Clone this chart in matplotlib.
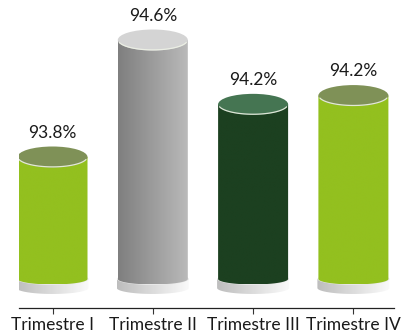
import numpy as np
import matplotlib
matplotlib.use("Agg")
import matplotlib.pyplot as plt
from matplotlib.patches import Polygon, Ellipse
from matplotlib.colors import LinearSegmentedColormap

plt.rcParams["font.family"] = ["Lato", "DejaVu Sans"]

# Quarterly results
quarters = ["Trimestre I", "Trimestre II", "Trimestre III", "Trimestre IV"]
values = [93.8, 94.6, 94.16, 94.22]

# Cylinder colours: (body left, body right, top face)
body_left = ["#93c01f", "#7f7f7f", "#1c4020", "#93c01f"]
body_right = ["#93c01f", "#bababa", "#1c4020", "#93c01f"]
top_faces = ["#7f9157", "#d4d4d4", "#457552", "#7f9157"]

BASE = 92.966
YLIM = (92.7675, 94.8735)

W, H = 401, 335
fig = plt.figure(figsize=(W / 100, H / 100), dpi=100)
ax_left, ax_right, ax_bottom = 19, 394, 308
ax = fig.add_axes([ax_left / W, (H - ax_bottom) / H, (ax_right - ax_left) / W, ax_bottom / H])

step_px = 100.3
xlim = ((ax_left - 52.5) / step_px, (ax_right - 52.5) / step_px)
px_x = 1 / step_px
px_y = (YLIM[1] - YLIM[0]) / ax_bottom


def body_path(xc, w, ybot, ytop, ry):
    t = np.linspace(np.pi, 2 * np.pi, 60)
    arc = np.column_stack([xc + w / 2 * np.cos(t), ybot + ry * np.sin(t)])
    verts = np.vstack([[xc - w / 2, ytop], arc, [xc + w / 2, ytop]])
    return verts


def gradient_fill(verts, c0, c1, z):
    poly = Polygon(verts, closed=True, facecolor="none", edgecolor="none", zorder=z)
    ax.add_patch(poly)
    cmap = LinearSegmentedColormap.from_list("g", [c0, c1])
    grad = np.linspace(0, 1, 256).reshape(1, -1)
    x0, x1 = verts[:, 0].min(), verts[:, 0].max()
    y0, y1 = verts[:, 1].min(), verts[:, 1].max()
    im = ax.imshow(grad, extent=[x0, x1, y0, y1], aspect="auto", cmap=cmap,
                   origin="lower", zorder=z, interpolation="bilinear")
    im.set_clip_path(poly)


bar_w = 70 * px_x
base_w = 72 * px_x
ry_top = 10.5 * px_y
ry_bot = 5.5 * px_y
ry_base = 6 * px_y

for i, v in enumerate(values):
    # base disc
    b_top = BASE
    b_bot = BASE - 9 * px_y
    gradient_fill(body_path(i, base_w, b_bot, b_top, ry_base), "#bdbdbd", "#fbfbfb", 1)
    ax.add_patch(Ellipse((i, b_top), base_w, 2 * ry_base, facecolor="#e9e9e9",
                         edgecolor="none", zorder=1.5))
    # cylinder body
    gradient_fill(body_path(i, bar_w, BASE, v, ry_bot), body_left[i], body_right[i], 2)
    # top face with a light rim along its front edge
    ax.add_patch(Ellipse((i, v), bar_w, 2 * ry_top, facecolor=top_faces[i],
                         edgecolor="none", zorder=3))
    t = np.linspace(np.pi * 1.08, np.pi * 1.92, 60)
    ax.plot(i + (bar_w / 2 - 0.4 * px_x) * np.cos(t), v + (ry_top - 0.6 * px_y) * np.sin(t),
            color="#eef2e6", lw=0.9, alpha=0.9, zorder=3.5, solid_capstyle="round")
    ax.annotate(f"{v:.1f}%", xy=(i, v), xytext=(0, 17.5), textcoords="offset points",
                ha="center", va="center", fontsize=12.5, color="#1a1a1a")

ax.set_xlim(*xlim)
ax.set_ylim(*YLIM)
ax.set_xticks(range(len(quarters)))
ax.set_xticklabels(quarters, fontsize=12.5, color="#1a1a1a")
ax.tick_params(axis="x", length=4, width=0.8, color="#333333", pad=2.5)
ax.set_yticks([])
for s in ["left", "right", "top"]:
    ax.spines[s].set_visible(False)
ax.spines["bottom"].set_color("#222222")
ax.spines["bottom"].set_linewidth(0.9)
ax.patch.set_visible(False)

fig.savefig("out.png", dpi=100)
